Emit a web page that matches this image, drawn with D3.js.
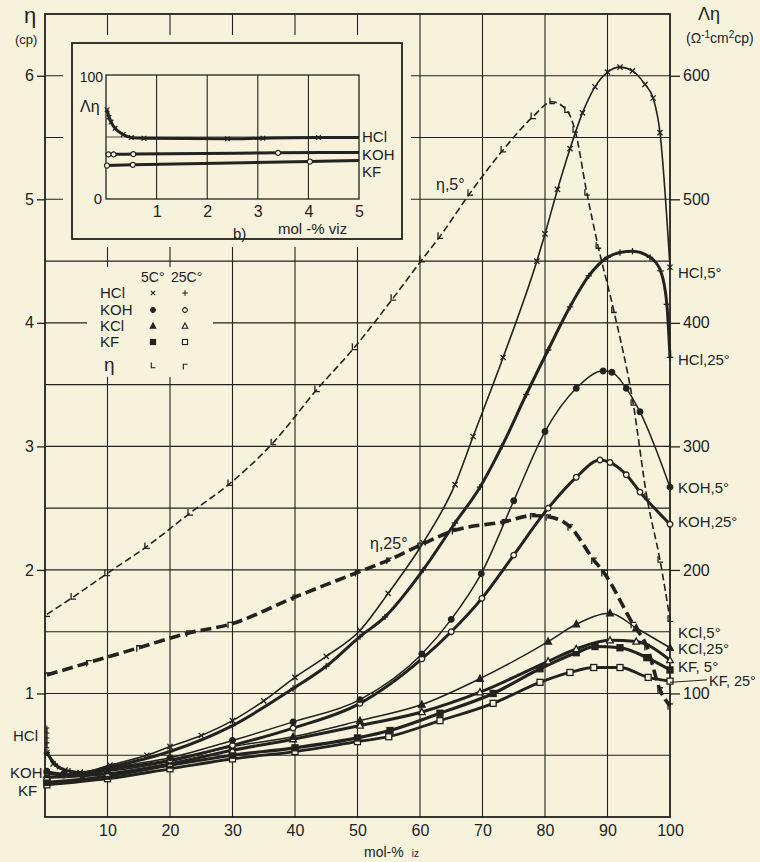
<!DOCTYPE html>
<html>
<head>
<meta charset="utf-8">
<script src="https://d3js.org/d3.v7.min.js"></script>
<style>
  body { margin: 0; background: #f6f2dc; }
  svg { display: block; font-family: "Liberation Sans", Arial, sans-serif; }
</style>
</head>
<body>
<svg id="chart" width="760" height="862"></svg>
<script>
// x: mol-% IZ, left axis eta (cp), right axis Lambda*eta (= eta scale x 100)
const xTicks = [10, 20, 30, 40, 50, 60, 70, 80, 90, 100];
const etaTicks = [1, 2, 3, 4, 5, 6];
const gridX = [10, 20, 30, 40, 50, 60, 70, 80, 90];
const gridY = [0.5, 1, 1.5, 2, 2.5, 3, 3.5, 4, 4.5, 5, 5.5, 6];

// Lambda*eta / 100
const hcl5 = [[0.3,0.52],[1.3,0.43],[3.2,0.38],[5.6,0.36],[10.4,0.42],[16.3,0.5],[20,0.57],[25,0.66],[30,0.78],[35,0.94],[40,1.13],[45,1.3],[50.4,1.51],[54.9,1.81],[60.5,2.22],[65.6,2.69],[68.5,3.08],[73.3,3.72],[78.7,4.5],[80,4.72],[82,5.08],[84,5.41],[86,5.7],[88,5.91],[90,6.03],[92,6.07],[94,6.04],[96,5.93],[97.3,5.82],[98.4,5.54],[100,4.45]];
const hcl25 = [[0.3,0.52],[2,0.41],[4,0.37],[6,0.36],[10,0.4],[20,0.53],[30,0.74],[39.7,1.04],[45,1.22],[50.4,1.46],[54.4,1.62],[60.5,2.0],[65.6,2.38],[69.6,2.67],[73.1,3.0],[77,3.42],[80.5,3.78],[84,4.13],[87,4.38],[90,4.53],[92,4.57],[94,4.58],[96.8,4.53],[98.5,4.42],[99.5,4.15],[100,3.72]];
const hclDilute = [0.56, 0.6, 0.64, 0.68, 0.72];
const koh5 = [[0.3,0.37],[3,0.35],[6,0.34],[10,0.39],[20,0.48],[30,0.62],[39.7,0.77],[50.4,0.95],[60.3,1.32],[65,1.6],[69.8,1.97],[75,2.56],[80,3.12],[85,3.47],[89.3,3.61],[90.7,3.6],[93,3.47],[95.2,3.28],[100,2.67]];
const koh25 = [[0.3,0.36],[3,0.34],[6,0.34],[10,0.38],[20,0.46],[30,0.58],[39.7,0.72],[50.4,0.92],[60.3,1.28],[65,1.5],[69.9,1.77],[75,2.12],[80.5,2.5],[85,2.75],[88.8,2.89],[90.4,2.87],[93,2.77],[95.2,2.63],[100,2.37]];
const kcl5 = [[0.3,0.34],[10,0.37],[20,0.45],[30,0.57],[39.7,0.65],[50.4,0.78],[60.3,0.91],[69.6,1.12],[80.5,1.42],[85,1.56],[90.4,1.65],[94.6,1.53],[100,1.37]];
const kcl25 = [[0.3,0.32],[10,0.35],[20,0.43],[30,0.54],[39.7,0.63],[50.4,0.74],[60.3,0.85],[69.6,1.01],[80.5,1.26],[85,1.36],[90.4,1.43],[94.6,1.42],[100,1.27]];
const kf5 = [[0.3,0.28],[10,0.33],[20,0.42],[30,0.5],[40,0.56],[50,0.64],[55.2,0.7],[63.2,0.84],[71.7,1.0],[79.2,1.2],[85,1.33],[88,1.38],[92,1.37],[96.3,1.29],[100,1.19]];
const kf25 = [[0.3,0.26],[10,0.31],[20,0.39],[30,0.47],[40,0.53],[50,0.61],[55,0.65],[63.2,0.78],[71.7,0.92],[79.2,1.09],[84,1.17],[87.8,1.21],[92,1.21],[96.5,1.13],[100,1.1]];
// viscosity (cp)
const eta5 = [[0.3,1.64],[4.5,1.78],[9.9,1.97],[16.3,2.19],[23.2,2.46],[29.6,2.7],[36.5,3.03],[43.5,3.46],[49.5,3.8],[55.7,4.2],[60.3,4.51],[63.2,4.7],[68,5.05],[73.3,5.4],[78.1,5.67],[81.1,5.79],[83.5,5.72],[84.8,5.56],[86.7,5.05],[88.5,4.62],[91,4.1],[94.1,3.35],[96.3,2.59],[98.4,2.08],[100,1.6]];
const eta25 = [[0.3,1.15],[7,1.25],[15,1.37],[23,1.49],[29.6,1.56],[40,1.78],[50,1.98],[55,2.08],[60,2.2],[65.5,2.32],[73.5,2.39],[78,2.44],[80.5,2.43],[84,2.35],[87.8,2.08],[89.4,1.98],[94.1,1.56],[96.3,1.38],[98.4,1.03],[100,0.9]];

// inset b): Lambda*eta at low mol-% viz
const insetXTicks = [1, 2, 3, 4, 5];
const insetHCl = [[0.02,72],[0.06,66],[0.1,62],[0.18,57],[0.34,52],[0.5,49.5],[0.75,49],[2.4,48.5],[3.1,49],[4.2,49.5],[5,49.5]];
const insetKOH = [[0.05,36],[0.15,36],[0.54,36.2],[3.4,37.2],[5,37.6]];
const insetKF = [[0.02,27],[0.53,27.6],[4.03,30.2],[5,31]];
const insetLabels = [['HCl', 50], ['KOH', 36], ['KF', 22.5]];

const legendNames = ['HCl', 'KOH', 'KCl', 'KF', 'η'];
const legendMarks5 = ['x', 'dot', 'tri', 'sq', 'L'];
const legendMarks25 = ['+', 'circle', 'otri', 'osq', 'G'];

const endLabels = [['HCl,5°',4.41],['HCl,25°',3.7],['KOH,5°',2.67],['KOH,25°',2.39],['KCl,5°',1.49],['KCl,25°',1.36],['KF, 5°',1.22],['KF, 25°',1.1]];

const ink = '#22221e';
const paper = '#f6f2dc';

const svg = d3.select('#chart');
const x = d3.scaleLinear([0, 100], [45, 670]);
const y = d3.scaleLinear([0, 6.5], [817, 14]);

// grid
const grid = svg.append('g').attr('stroke', ink).attr('stroke-width', 1.1);
gridX.forEach(v => grid.append('line')
  .attr('x1', x(v)).attr('x2', x(v)).attr('y1', y(6.5)).attr('y2', y(0)));
gridY.forEach(v => grid.append('line')
  .attr('x1', x(0)).attr('x2', x(100)).attr('y1', y(v)).attr('y2', y(v)));
svg.append('rect')
  .attr('x', x(0)).attr('y', y(6.5))
  .attr('width', x(100) - x(0)).attr('height', y(0) - y(6.5))
  .attr('fill', 'none').attr('stroke', ink).attr('stroke-width', 1.8);

// axes
function styleAxis(g) {
  g.select('.domain').remove();
  g.attr('color', ink).attr('font-size', 16).attr('font-family', '"Liberation Sans", Arial, sans-serif');
  g.selectAll('line').attr('stroke-width', 1.3);
}
svg.append('g').attr('transform', `translate(0,${y(0)})`)
  .call(d3.axisBottom(x).tickValues(xTicks).tickSize(0).tickPadding(8))
  .call(styleAxis);
svg.append('g').attr('transform', `translate(${x(0)},0)`)
  .call(d3.axisLeft(y).tickValues(etaTicks).tickSize(8).tickPadding(3).tickFormat(d3.format('d')))
  .call(styleAxis);
svg.append('g').attr('transform', `translate(${x(100)},0)`)
  .call(d3.axisRight(y).tickValues(etaTicks).tickSize(10).tickPadding(3).tickFormat(d => d * 100))
  .call(styleAxis);

// axis titles
svg.append('text').attr('x', 24).attr('y', 23).attr('font-size', 22).attr('fill', ink).text('η');
svg.append('text').attr('x', 15).attr('y', 44).attr('font-size', 13).attr('fill', ink).text('(cp)');
svg.append('text').attr('x', 698).attr('y', 20).attr('font-size', 18).attr('fill', ink).text('Λη');
const unit = svg.append('text').attr('x', 686).attr('y', 43).attr('font-size', 14).attr('fill', ink);
unit.append('tspan').text('(Ω');
unit.append('tspan').attr('font-size', 10).attr('dy', -5).text('-1');
unit.append('tspan').attr('dy', 5).text('cm');
unit.append('tspan').attr('font-size', 10).attr('dy', -5).text('2');
unit.append('tspan').attr('dy', 5).text('cp)');
const xt = svg.append('text').attr('x', 364).attr('y', 857).attr('font-size', 14).attr('fill', ink);
xt.append('tspan').text('mol-%');
xt.append('tspan').attr('dx', 8).attr('font-size', 10).text('iz');

// inset box and legend cover the grid
svg.append('rect').attr('x', 63).attr('y', 35).attr('width', 348).attr('height', 212).attr('fill', paper);
svg.append('rect').attr('x', 87).attr('y', 267).attr('width', 126).attr('height', 110).attr('fill', paper);

// marker drawing
function marker(g, type, cx, cy, s = 1) {
  const m = g.append('g').attr('transform', `translate(${cx},${cy}) scale(${s})`)
    .attr('stroke', ink).attr('fill', 'none').attr('stroke-width', 1.3);
  switch (type) {
    case 'x': m.append('path').attr('d', 'M-2.6,-2.6L2.6,2.6M-2.6,2.6L2.6,-2.6'); break;
    case '+': m.append('path').attr('d', 'M-3.2,0H3.2M0,-3.2V3.2'); break;
    case 'dot': m.append('circle').attr('r', 2.8).attr('fill', ink); break;
    case 'circle': m.append('circle').attr('r', 2.8).attr('fill', paper); break;
    case 'tri': m.append('path').attr('d', 'M0,-3.6L3.3,2.6H-3.3Z').attr('fill', ink); break;
    case 'otri': m.append('path').attr('d', 'M0,-3.6L3.3,2.6H-3.3Z').attr('fill', paper); break;
    case 'sq': m.append('rect').attr('x', -3).attr('y', -3).attr('width', 6).attr('height', 6).attr('fill', ink); break;
    case 'osq': m.append('rect').attr('x', -3).attr('y', -3).attr('width', 6).attr('height', 6).attr('fill', paper); break;
    case 'L': m.append('path').attr('d', 'M-2,-4V2H3'); break;
    case 'G': m.append('path').attr('d', 'M-2,4V-2H3'); break;
  }
}

// curves
const series = [
  { data: eta5, mark: 'L', w: 1.6, dash: '7,3.5' },
  { data: eta25, mark: 'G', w: 3.6, dash: '11,5' },
  { data: kf25, mark: 'osq', w: 2.8 },
  { data: kf5, mark: 'sq', w: 3.2 },
  { data: kcl25, mark: 'otri', w: 3 },
  { data: kcl5, mark: 'tri', w: 1.5 },
  { data: koh25, mark: 'circle', w: 3 },
  { data: koh5, mark: 'dot', w: 1.5 },
  { data: hcl25, mark: '+', w: 3 },
  { data: hcl5, mark: 'x', w: 1.6 }
];
const line = d3.line().x(d => x(d[0])).y(d => y(d[1])).curve(d3.curveMonotoneX);
const curves = svg.append('g');
series.forEach(s => {
  curves.append('path').attr('d', line(s.data))
    .attr('fill', 'none').attr('stroke', ink).attr('stroke-width', s.w)
    .attr('stroke-dasharray', s.dash || null).attr('stroke-linejoin', 'round');
});
series.forEach(s => s.data.forEach(d => marker(curves, s.mark, x(d[0]), y(d[1]))));
curves.append('line').attr('x1', x(0.3)).attr('x2', x(0.3))
  .attr('y1', y(d3.min(hclDilute))).attr('y2', y(d3.max(hclDilute)))
  .attr('stroke', ink).attr('stroke-width', 1.2);
hclDilute.forEach(v => marker(curves, '+', x(0.3), y(v), 0.8));

// curve labels
const lab = svg.append('g').attr('fill', ink).attr('font-size', 15);
lab.append('text').attr('x', 436).attr('y', 190).attr('font-size', 16).text('η,5°');
lab.append('text').attr('x', 370).attr('y', 549).attr('font-size', 16).text('η,25°');
endLabels.forEach(([t, v], i) => {
  const last = i === endLabels.length - 1;
  lab.append('text').attr('x', last ? 709 : 678).attr('y', y(v)).attr('dy', '0.36em')
    .attr('font-size', last ? 14.5 : 15).text(t);
});
svg.append('line').attr('x1', x(100)).attr('x2', 707)
  .attr('y1', y(1.09)).attr('y2', y(1.11)).attr('stroke', ink).attr('stroke-width', 1);
lab.append('text').attr('x', 13).attr('y', 741).text('HCl');
lab.append('text').attr('x', 10).attr('y', 778).text('KOH');
lab.append('text').attr('x', 18).attr('y', 796).text('KF');

// legend
const leg = svg.append('g').attr('fill', ink).attr('font-size', 15);
leg.append('text').attr('x', 141).attr('y', 282).attr('font-size', 14).text('5C°');
leg.append('text').attr('x', 171).attr('y', 282).attr('font-size', 14).text('25C°');
const rowY = [298, 315, 331, 347, 371];
legendNames.forEach((n, i) => {
  leg.append('text').attr('x', n === 'η' ? 104 : 100).attr('y', rowY[i])
    .attr('font-size', n === 'η' ? 19 : 15).text(n);
  marker(leg, legendMarks5[i], 153, rowY[i] - 5, 0.85);
  marker(leg, legendMarks25[i], 185, rowY[i] - 5, 0.85);
});

// inset b)
const xi = d3.scaleLinear([0, 5], [106, 359]);
const yi = d3.scaleLinear([0, 100], [199, 75]);
const ins = svg.append('g');
ins.append('rect').attr('x', 72).attr('y', 43).attr('width', 330).attr('height', 196)
  .attr('fill', 'none').attr('stroke', ink).attr('stroke-width', 1.8);
[1, 2, 3, 4].forEach(v => ins.append('line').attr('x1', xi(v)).attr('x2', xi(v))
  .attr('y1', yi(100)).attr('y2', yi(0)).attr('stroke', ink).attr('stroke-width', 1.1));
ins.append('line').attr('x1', xi(0)).attr('x2', xi(5)).attr('y1', yi(50)).attr('y2', yi(50))
  .attr('stroke', ink).attr('stroke-width', 0.8);
ins.append('rect').attr('x', xi(0)).attr('y', yi(100)).attr('width', xi(5) - xi(0)).attr('height', yi(0) - yi(100))
  .attr('fill', 'none').attr('stroke', ink).attr('stroke-width', 1.3);
ins.append('g').attr('transform', `translate(0,${yi(0)})`)
  .call(d3.axisBottom(xi).tickValues(insetXTicks).tickSize(0).tickPadding(7).tickFormat(d3.format('d')))
  .call(g => { g.select('.domain').remove(); g.attr('color', ink).attr('font-size', 16).attr('font-family', '"Liberation Sans", Arial, sans-serif'); });
ins.append('text').attr('x', 103).attr('y', 82).attr('text-anchor', 'end').attr('font-size', 14).attr('fill', ink).text('100');
ins.append('text').attr('x', 102).attr('y', 204).attr('text-anchor', 'end').attr('font-size', 15).attr('fill', ink).text('0');
ins.append('text').attr('x', 80).attr('y', 112).attr('font-size', 16).attr('fill', ink).text('Λη');
ins.append('text').attr('x', 233).attr('y', 239).attr('font-size', 15).attr('fill', ink).text('b)');
ins.append('text').attr('x', 278).attr('y', 234).attr('font-size', 15).attr('fill', ink).text('mol -% viz');
const lineI = d3.line().x(d => xi(d[0])).y(d => yi(d[1])).curve(d3.curveMonotoneX);
[[insetHCl, 'x'], [insetKOH, 'circle'], [insetKF, 'circle']].forEach(([data, mk]) => {
  ins.append('path').attr('d', lineI(data)).attr('fill', 'none').attr('stroke', ink).attr('stroke-width', 3);
  data.slice(0, -1).forEach(d => marker(ins, mk, xi(d[0]), yi(d[1]), 0.9));
});
insetLabels.forEach(([name, v]) => ins.append('text').attr('x', 362).attr('y', yi(v)).attr('dy', '0.36em')
  .attr('font-size', 15).attr('fill', ink).text(name));
</script>
</body>
</html>
